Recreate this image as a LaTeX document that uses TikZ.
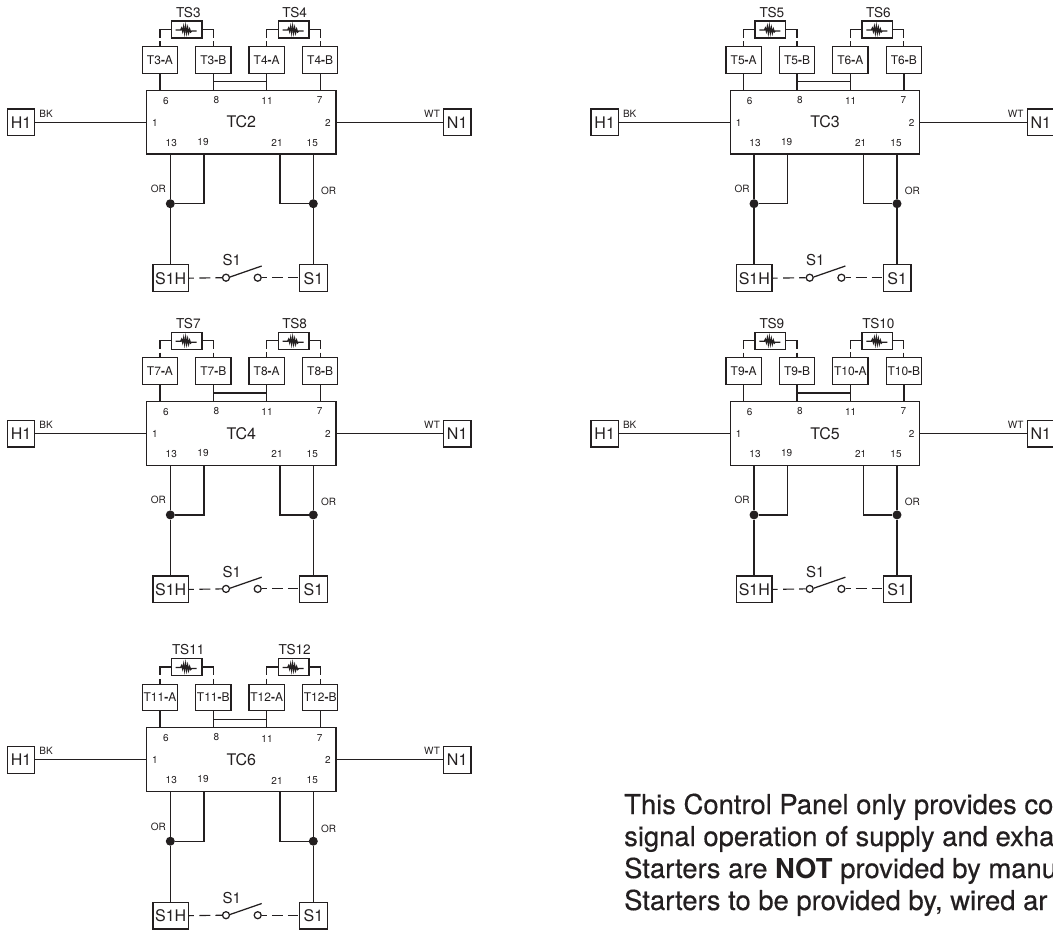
\documentclass[tikz,border=0pt]{standalone}
\usepackage{xcolor}
\usepackage{fontspec}
\usepackage{tikz}
\setmainfont{TeX Gyre Heros}
\newfontfamily\notefont[FakeBold=0.4]{TeX Gyre Heros}
\definecolor{wireblack}{rgb}{0.137,0.122,0.125}
\tikzstyle{every node}=[text=wireblack]
\tikzstyle{wire}=[line width=1.25pt,color=wireblack]
\tikzstyle{dashwire}=[wire,line width=1.1pt]
\tikzstyle{tcbox}=[draw=wireblack,line width=1.25pt,inner sep=0pt,minimum width=189.3pt,minimum height=63.7pt,font=\fontsize{16}{18}\selectfont]
\tikzstyle{termbox}=[draw=wireblack,line width=1.25pt,inner sep=0pt,minimum width=27.4pt,minimum height=26.7pt,font=\fontsize{16}{18}\selectfont]
\tikzstyle{switchbox}=[termbox,minimum width=35.3pt]
\tikzstyle{tbox}=[termbox,minimum width=35.3pt,font=\fontsize{12}{14}\selectfont]
\tikzstyle{tsbox}=[draw=wireblack,line width=1.25pt,inner sep=0pt,minimum width=30.7pt,minimum height=17pt]
\tikzstyle{tslabel}=[inner sep=0pt,font=\fontsize{13.6}{15}\selectfont]
\tikzstyle{pinlabel}=[inner sep=0pt,font=\fontsize{10}{12}\selectfont]
\tikzstyle{junction}=[circle,fill=wireblack,inner sep=0pt,minimum size=9pt]
\tikzstyle{contact}=[circle,draw=wireblack,line width=1.25pt,fill=white,inner sep=0pt,minimum size=7pt]
\tikzstyle{noteline}=[anchor=base west,inner sep=0pt,font=\fontsize{27.4}{32}\notefont]
\newcommand{\tsymbol}[1]{
  \draw [wire] (#1.center) ++(-11,0.5) -- ++(5,0) -- ++(1,-2) -- ++(1,3.5) -- ++(1,-5) -- ++(1,6.5) -- ++(1,-7) -- ++(1,7) -- ++(1,-5.5) -- ++(1,5.5) -- ++(1,-4) -- ++(1,3) -- ++(1,-1) -- ++(5,0);
}
\newcommand{\controlpanel}[7]{
  \begin{scope}[shift={(#1,#2)},name prefix=#3-]
    \node [tcbox] (tc) at (241.35,122.15) {#3};
    \node [termbox] (h) at (21,122.35) {H1};
    \node [termbox] (n) at (457.2,122.35) {N1};
    \node [tbox] (ta) at (160,60) {#6{\bfseries-}A};
    \node [tbox] (tb) at (213.3,60) {#6{\bfseries-}B};
    \node [tbox] (tc2) at (266.7,60) {#7{\bfseries-}A};
    \node [tbox] (td) at (320.2,60) {#7{\bfseries-}B};
    \node [tsbox] (tsa) at (186.65,29.5) {};
    \node [tsbox] (tsb) at (293.65,29.5) {};
    \node [tslabel] (tsalabel) at (188.3,12.3) {#4};
    \node [tslabel] (tsblabel) at (294.7,12.3) {#5};
    \node [switchbox] (shb) at (170.65,278.2) {S1H};
    \node [termbox] (sb) at (313.5,278.2) {S1};
    \node [junction] (dl) at (170.3,203.7) {};
    \node [junction] (dr) at (313.3,203.7) {};
    \node [contact] (swa) at (226,277.7) {};
    \node [contact] (swb) at (257.7,277.7) {};
    \node [pinlabel] (swlabel) at (231.7,260.5) {\fontsize{15}{17}\selectfont S1};
    \coordinate (swtip) at (261.7,266);
    \coordinate (xa) at (213.3,81.7);
    \coordinate (xb) at (266.7,81.7);
    \coordinate (pa) at (204,154);
    \coordinate (pb) at (280,154);
    % pin numbers
    \node [pinlabel] (p6) at (166,101) {6};
    \node [pinlabel] (p8) at (216.3,100) {8};
    \node [pinlabel] (p11) at (267,101) {11};
    \node [pinlabel] (p7) at (319.7,100.3) {7};
    \node [pinlabel] (p1) at (155,122.7) {1};
    \node [pinlabel] (p2) at (328,122.7) {2};
    \node [pinlabel] (p13) at (171.3,143) {13};
    \node [pinlabel] (p19) at (203,142) {19};
    \node [pinlabel] (p21) at (277,143) {21};
    \node [pinlabel] (p15) at (312.3,143) {15};
    \node [pinlabel] (bk) at (46,113.7) {BK};
    \node [pinlabel] (wt) at (432,113.7) {WT};
    \node [pinlabel] (orl) at (158.3,189) {OR};
    \node [pinlabel] (orr) at (328.7,191) {OR};
    % wires
    \draw [wire] (h.east) -- (tc.west |- h.east);
    \draw [wire] (n.west) -- (tc.east |- n.west);
    \draw [wire] (ta.south) -- (ta.south |- tc.north);
    \draw [wire] (tb.south) -- (tb.south |- tc.north);
    \draw [wire] (tc2.south) -- (tc2.south |- tc.north);
    \draw [wire] (td.south) -- (td.south |- tc.north);
    \draw [wire] (xa) -- (xb);
    \draw [wire] (dl) -- (dl |- tc.south);
    \draw [wire] (dl) -- (dl |- shb.north);
    \draw [wire] (dr) -- (dr |- tc.south);
    \draw [wire] (dr) -- (dr |- sb.north);
    \draw [wire] (dl) -| (pa);
    \draw [wire] (dr) -| (pb);
    \draw [dashwire,dash pattern=on 19pt off 3.5pt on 10pt] (tsa.west) -| (ta.north);
    \draw [dashwire,dash pattern=on 19pt off 3.5pt on 10pt] (tsa.east) -| (tb.north);
    \draw [dashwire,dash pattern=on 19pt off 3.5pt on 10pt] (tsb.west) -| (tc2.north);
    \draw [dashwire,dash pattern=on 19pt off 3.5pt on 10pt] (tsb.east) -| (td.north);
    \draw [dashwire,dash pattern=on 5pt off 5.5pt on 11pt off 5pt on 8pt] (shb.east) -- (swa.west);
    \draw [dashwire,dash pattern=on 5pt off 5pt on 11pt off 5pt on 10pt] (swb.east) -- (sb.west |- swb.east);
    \draw [wire] (swa.10) -- (swtip);
    \tsymbol{tsa}
    \tsymbol{tsb}
  \end{scope}
}
\begin{document}
\begin{tikzpicture}[line cap=butt,line join=miter,x=1pt,y=-1pt]
  \useasboundingbox (0,0) rectangle (1053,930);
  \fill [white] (0,0) rectangle (1053,930);
  \begin{scope}
    \clip (0,0) rectangle (1053,930);
    \controlpanel{0}{0}{TC2}{TS3}{TS4}{T3}{T4}
    \controlpanel{583.7}{0}{TC3}{TS5}{TS6}{T5}{T6}
    \controlpanel{0}{311.2}{TC4}{TS7}{TS8}{T7}{T8}
    \controlpanel{583.7}{311.2}{TC5}{TS9}{TS10}{T9}{T10}
    \controlpanel{0}{637.5}{TC6}{TS11}{TS12}{T11}{T12}
    \node [noteline] (noteone) at (624,814) {This Control Panel only provides co};
    \node [noteline] (notetwo) at (624,846) {signal operation of supply and exha};
    \node [noteline] (notethree) at (624,878) {Starters are {\normalfont\bfseries NOT} provided by manu};
    \node [noteline] (notefour) at (624,910) {Starters to be provided by, wired ar};
  \end{scope}
\end{tikzpicture}
\end{document}
